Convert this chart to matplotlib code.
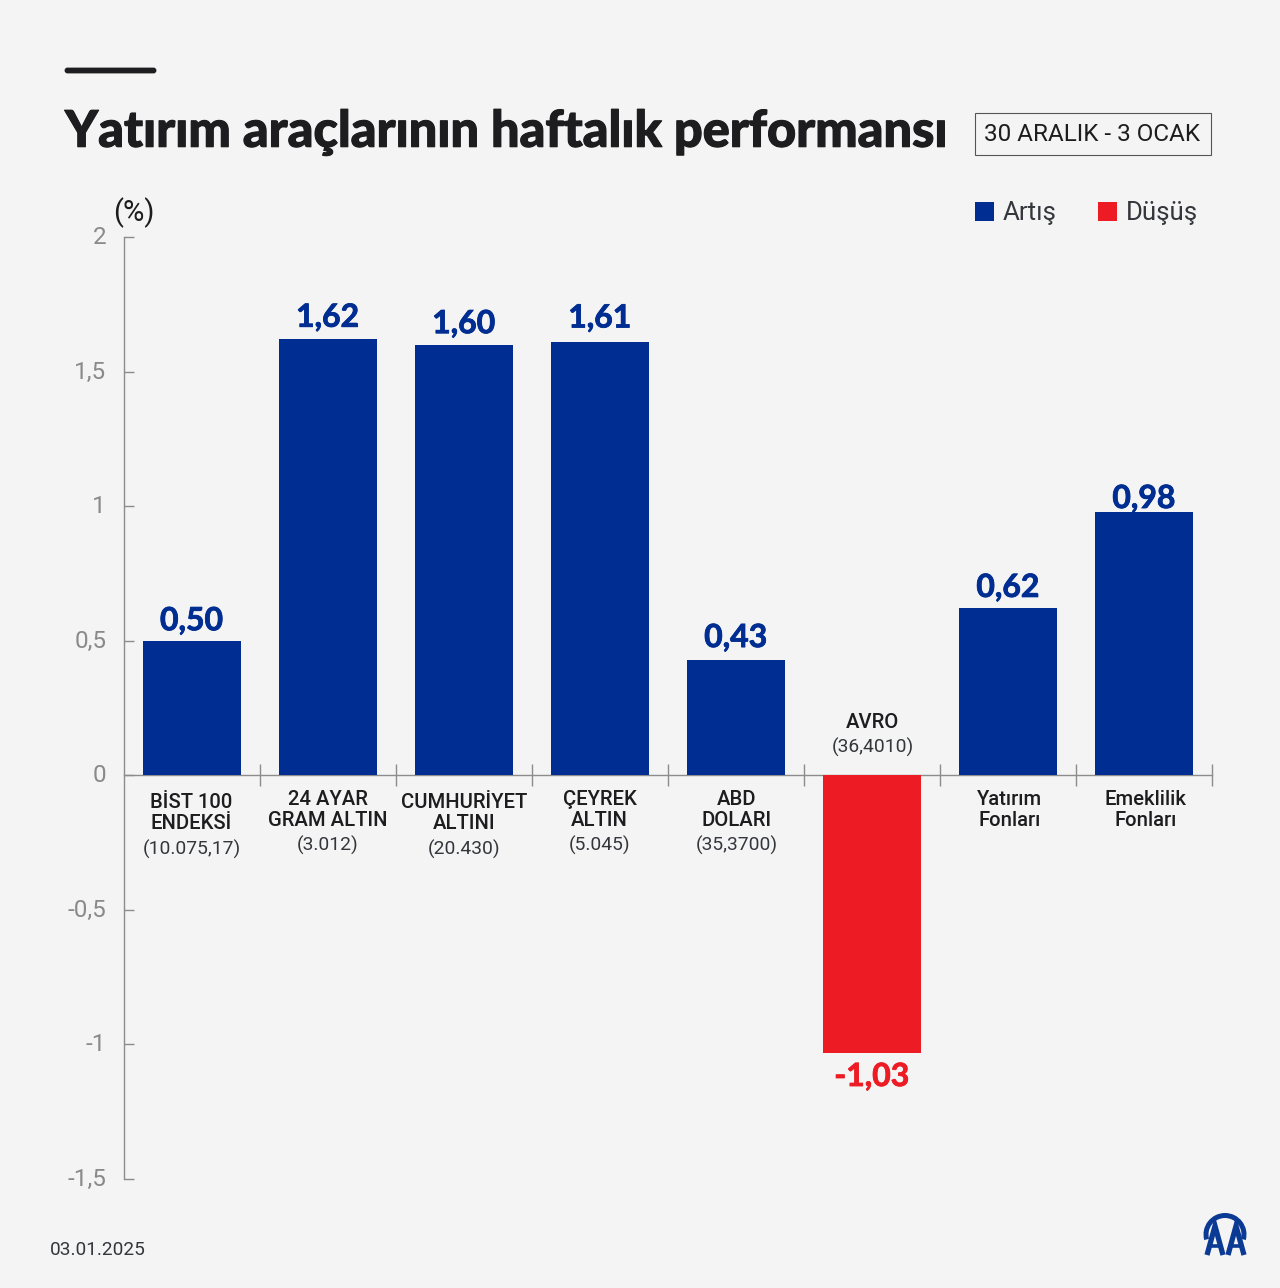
import matplotlib
matplotlib.use('Agg')
import matplotlib.pyplot as plt
import matplotlib.patheffects as pe
from matplotlib.patches import Rectangle, Wedge, FancyBboxPatch
from matplotlib.transforms import ScaledTranslation

# data
values = [0.50, 1.62, 1.60, 1.61, 0.43, -1.03, 0.62, 0.98]
value_labels = ['0,50', '1,62', '1,60', '1,61', '0,43', '-1,03', '0,62', '0,98']
names = ['BİST 100\nENDEKSİ', '24 AYAR\nGRAM ALTIN', 'CUMHURİYET\nALTINI', 'ÇEYREK\nALTIN',
         'ABD\nDOLARI', 'AVRO', 'Yatırım\nFonları', 'Emeklilik\nFonları']
prices = ['(10.075,17)', '(3.012)', '(20.430)', '(5.045)', '(35,3700)', '(36,4010)', '', '']
y_ticks = [-1.5, -1, -0.5, 0, 0.5, 1, 1.5, 2]
y_tick_labels = ['-1,5', '-1', '-0,5', '0', '0,5', '1', '1,5', '2']

BG = '#f4f4f4'
BLUE = '#002d91'
RED = '#ed1c24'
DARK = '#1d1d1f'
GREY = '#8a8a8a'
LINE = '#8c8c8c'
LOGO = '#0a3a94'

plt.rcParams['font.family'] = ['Roboto', 'DejaVu Sans']

fig = plt.figure(figsize=(12.8, 12.88), dpi=100, facecolor=BG)

# main chart, placed by pixels
ax = fig.add_axes([123.5 / 1280, 1 - 1179 / 1288, (1212 - 123.5) / 1280, (1179 - 237) / 1288])
ax.set_facecolor('none')
colors = [BLUE if v >= 0 else RED for v in values]
ax.bar(range(len(values)), values, width=0.72, color=colors, zorder=3)
ax.set_xlim(-0.5, 7.5)
ax.set_ylim(-1.5, 2)

for s in ['top', 'right']:
    ax.spines[s].set_visible(False)
ax.spines['left'].set_color(LINE)
ax.spines['left'].set_linewidth(1)
ax.spines['bottom'].set_position(('data', 0))
ax.spines['bottom'].set_color(LINE)
ax.spines['bottom'].set_linewidth(1)

ax.set_yticks(y_ticks)
ax.set_yticklabels(y_tick_labels, fontsize=17.5, color=GREY)
ax.tick_params(axis='y', direction='in', length=7, width=1, color=LINE, pad=12.5)
# tick labels sit a little above their ticks in the original
shift = ScaledTranslation(0, 1.5 / 72, fig.dpi_scale_trans)
for lab in ax.get_yticklabels():
    lab.set_transform(lab.get_transform() + shift)
ax.set_xticks([i + 0.5 for i in range(len(values))])
ax.set_xticklabels([])
ax.tick_params(axis='x', direction='inout', length=16, width=1, color=LINE)

# value labels, gap in pixels from the bar end
label_gaps = [20, 22, 21, 24, 22, -24, 21, 13]
for i, v in enumerate(values):
    t = ax.annotate(value_labels[i], xy=(i, v), xytext=(0, label_gaps[i] * 0.72), textcoords='offset points',
                    ha='center', va='center', fontsize=23, fontweight='bold',
                    family=['Lato', 'DejaVu Sans'], color=colors[i], zorder=4)
    t.set_path_effects([pe.withStroke(linewidth=0.6, foreground=colors[i])])

# overlay in pixel coordinates for the header, category labels, legend and logo
ov = fig.add_axes([0, 0, 1, 1])
ov.set_xlim(0, 1280)
ov.set_ylim(1288, 0)
ov.axis('off')
ov.patch.set_alpha(0)

name_y = [813, 810, 813, 810, 810, 722, 810, 810]
price_y = [849, 845, 849, 845, 845, 747, 0, 0]
name_dx = [0, 0, 0, 0, 1, 1, 2, 2]
for i in range(len(values)):
    cx = ax.transData.transform((i, 0))[0]
    ov.text(cx + name_dx[i], name_y[i], names[i], ha='center', va='center', fontsize=14.6,
            fontweight='medium', color=DARK, linespacing=1.14)
    if prices[i]:
        ov.text(cx + name_dx[i], price_y[i], prices[i], ha='center', va='center', fontsize=13.9,
                color='#33363b')

# header
ov.add_patch(FancyBboxPatch((66, 69), 89, 3, boxstyle='round,pad=0,rounding_size=1.5',
                            fc=DARK, ec=DARK, lw=2))
title = ov.text(65, 132.5, 'Yatırım araçlarının haftalık performansı', ha='left', va='center', fontsize=36.3,
                fontweight='black', family=['Lato', 'DejaVu Sans'], color=DARK)
title.set_path_effects([pe.withStroke(linewidth=0.8, foreground=DARK)])
ov.add_patch(Rectangle((975, 113), 235.5, 41.5, fc='none', ec='#555555', lw=0.8))
ov.text(1091.5, 134, '30 ARALIK - 3 OCAK', ha='center', va='center', fontsize=17.5, color=DARK)
ov.text(134, 213, '(%)', ha='center', va='center', fontsize=21, color=DARK)

# legend
ov.add_patch(Rectangle((975, 202), 19, 19, fc=BLUE, ec='none'))
ov.text(1003, 213, 'Artış', ha='left', va='center', fontsize=18.6, color='#33363b')
ov.add_patch(Rectangle((1098, 202), 19, 19, fc=RED, ec='none'))
ov.text(1126, 213, 'Düşüş', ha='left', va='center', fontsize=18.6, color='#33363b')

# footer and logo
ov.text(50, 1250, '03.01.2025', ha='left', va='center', fontsize=13.7, color='#33363b')
ov.add_patch(Wedge((1225, 1234.5), 21.5, 165, 375, width=5, fc=LOGO, ec='none'))
for ax_x in [1215, 1236]:
    ov.plot([ax_x - 8, ax_x, ax_x + 8], [1255, 1226, 1255], color=LOGO, lw=3.8, solid_capstyle='butt',
            solid_joinstyle='miter')
    ov.plot([ax_x - 4, ax_x + 4], [1246, 1246], color=LOGO, lw=2.6, solid_capstyle='butt')
ov.set_xlim(0, 1280)
ov.set_ylim(1288, 0)

fig.savefig('out.png', dpi=100, facecolor=BG)
